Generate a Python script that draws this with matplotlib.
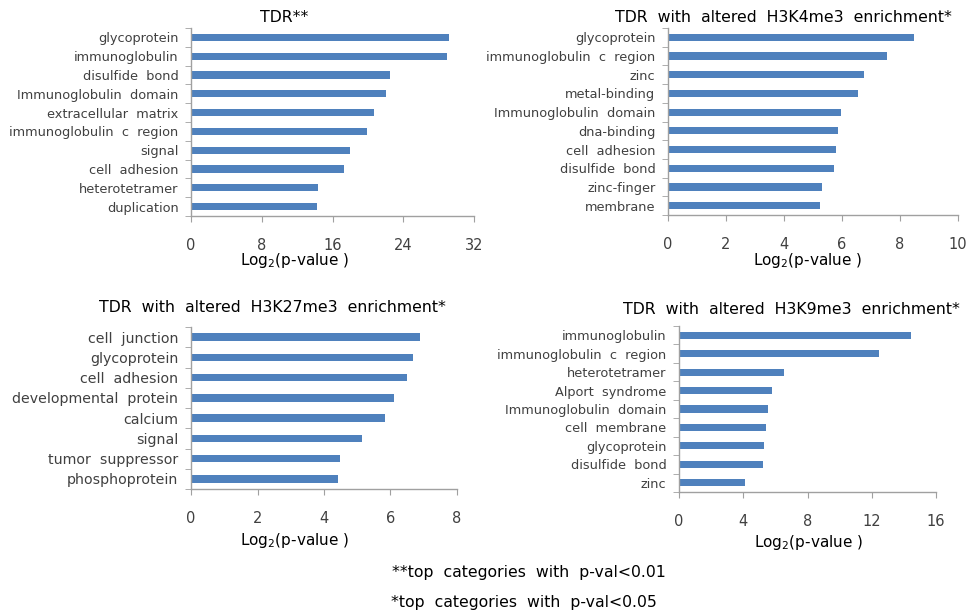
import matplotlib
matplotlib.use('Agg')
import matplotlib.pyplot as plt
import numpy as np

# data
cats_tdr = ['glycoprotein', 'immunoglobulin', 'disulfide  bond', 'Immunoglobulin  domain',
            'extracellular  matrix', 'immunoglobulin  c  region', 'signal', 'cell  adhesion',
            'heterotetramer', 'duplication']
vals_tdr = [29.2, 28.9, 22.5, 22.1, 20.7, 19.9, 18.0, 17.3, 14.4, 14.2]

cats_k4 = ['glycoprotein', 'immunoglobulin  c  region', 'zinc', 'metal-binding',
           'Immunoglobulin  domain', 'dna-binding', 'cell  adhesion', 'disulfide  bond',
           'zinc-finger', 'membrane']
vals_k4 = [8.49, 7.56, 6.77, 6.54, 5.98, 5.86, 5.80, 5.73, 5.32, 5.23]

cats_k27 = ['cell  junction', 'glycoprotein', 'cell  adhesion', 'developmental  protein',
            'calcium', 'signal', 'tumor  suppressor', 'phosphoprotein']
vals_k27 = [6.90, 6.67, 6.49, 6.11, 5.82, 5.13, 4.47, 4.41]

cats_k9 = ['immunoglobulin', 'immunoglobulin  c  region', 'heterotetramer', 'Alport  syndrome',
           'Immunoglobulin  domain', 'cell  membrane', 'glycoprotein', 'disulfide  bond', 'zinc']
vals_k9 = [14.42, 12.47, 6.55, 5.80, 5.51, 5.40, 5.32, 5.20, 4.14]

titles = ['TDR**', 'TDR  with  altered  H3K4me3  enrichment*',
          'TDR  with  altered  H3K27me3  enrichment*', 'TDR  with  altered  H3K9me3  enrichment*']

W, H = 968, 614
fig = plt.figure(figsize=(W / 100, H / 100), dpi=100)
plt.rcParams['font.family'] = ['DejaVu Sans']

blue = '#4F81BD'
grey = '#404040'
axcol = '#a0a0a0'


def px_axes(l, r, t, b):
    return fig.add_axes([l / W, (H - b) / H, (r - l) / W, (b - t) / H])


def panel(ax, cats, vals, xmax, step, fs):
    n = len(cats)
    y = np.arange(n)
    ax.barh(y, vals, height=0.38, color=blue, edgecolor='none')
    ax.set_ylim(n - 0.5, -0.5)
    ax.set_xlim(0, xmax)
    ax.set_yticks(y)
    ax.set_yticklabels(cats, fontsize=fs, color=grey)
    ax.set_yticks(np.arange(n + 1) - 0.5, minor=True)
    ax.tick_params(axis='y', which='major', length=0, pad=9)
    ax.tick_params(axis='y', which='minor', length=4, color=axcol, direction='out')
    ax.set_xticks(np.arange(0, xmax + 0.1, step))
    ax.tick_params(axis='x', length=4, color=axcol, direction='out', pad=12,
                   labelsize=10.5, labelcolor=grey)
    for s in ['top', 'right']:
        ax.spines[s].set_visible(False)
    for s in ['left', 'bottom']:
        ax.spines[s].set_color(axcol)
        ax.spines[s].set_linewidth(1.0)


ax1 = px_axes(191, 474, 28, 216)
panel(ax1, cats_tdr, vals_tdr, 32, 8, 9.3)
ax2 = px_axes(668, 958, 28, 215)
panel(ax2, cats_k4, vals_k4, 10, 2, 9.3)
ax3 = px_axes(191, 457, 327, 489)
panel(ax3, cats_k27, vals_k27, 8, 2, 10.2)
ax4 = px_axes(679, 936, 326, 492)
panel(ax4, cats_k9, vals_k9, 16, 4, 9.3)

# titles and x labels
fig.text(284 / W, 1 - 18 / H, titles[0], ha='center', va='center', fontsize=11.3)
fig.text(783 / W, 1 - 18 / H, titles[1], ha='center', va='center', fontsize=11.3)
fig.text(272 / W, 1 - 308 / H, titles[2], ha='center', va='center', fontsize=11.3)
fig.text(791 / W, 1 - 310 / H, titles[3], ha='center', va='center', fontsize=11.3)

xlab = 'Log$_2$(p-value )'
for (x, yy) in [(295, 261), (808, 261), (295, 541), (809, 543)]:
    fig.text(x / W, 1 - yy / H, xlab, ha='center', va='center', fontsize=11)

fig.text(529 / W, 1 - 573 / H, '**top  categories  with  p-val<0.01', ha='center', va='center', fontsize=11.3)
fig.text(524 / W, 1 - 602 / H, '*top  categories  with  p-val<0.05', ha='center', va='center', fontsize=11.3)

fig.savefig('out.png', dpi=100)
